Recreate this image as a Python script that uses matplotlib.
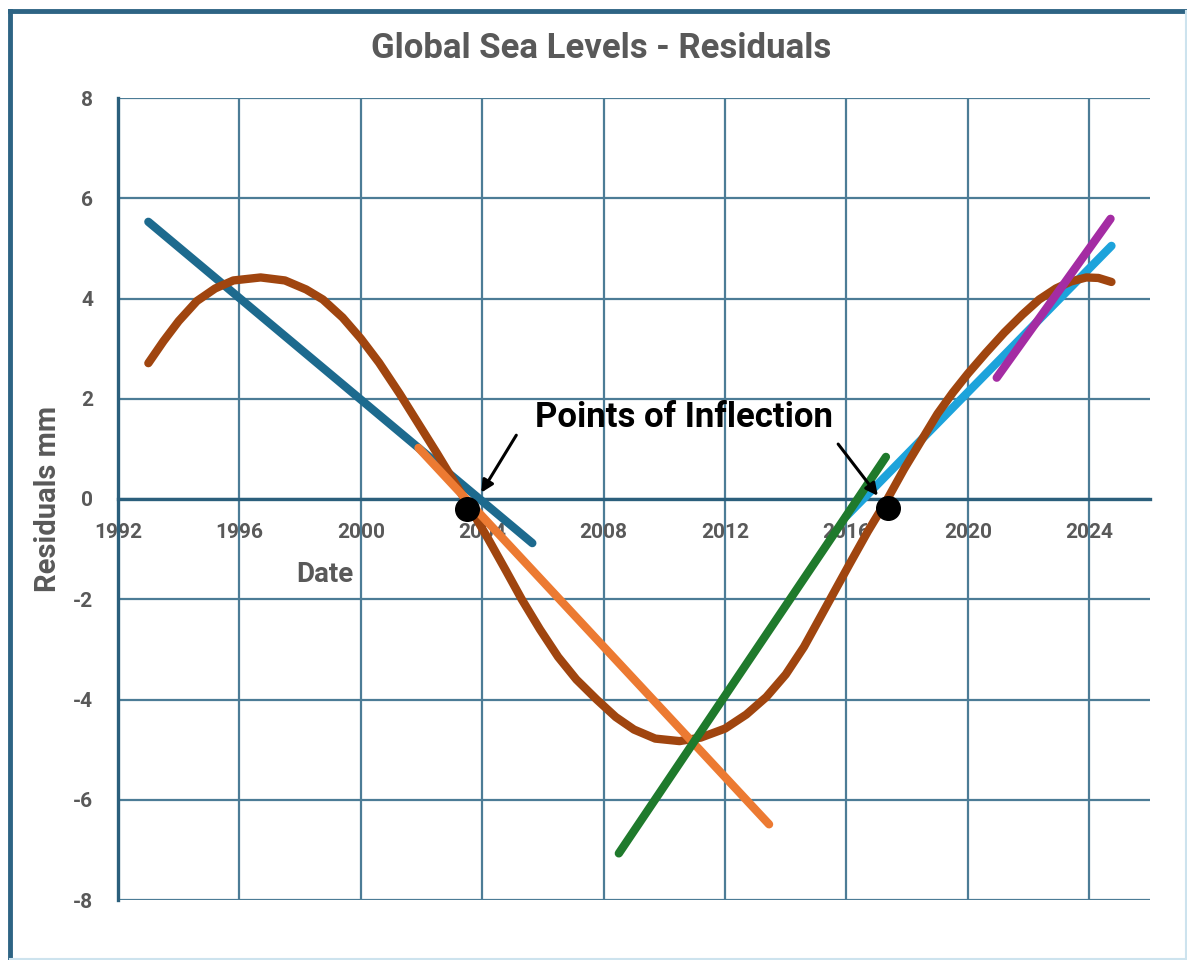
import matplotlib.pyplot as plt
from matplotlib.lines import Line2D

# fitted residual curve
fit_years = [1993.0, 1993.5, 1994.0, 1994.6, 1995.2, 1995.8, 1996.7, 1997.5,
             1998.2, 1998.75, 1999.4, 2000.0, 2000.6, 2001.28, 2001.9, 2002.5,
             2003.0, 2003.6, 2004.2, 2004.8, 2005.3, 2005.9, 2006.5, 2007.1,
             2007.77, 2008.4, 2009.0, 2009.7, 2010.5, 2011.2, 2012.0, 2012.7,
             2013.36, 2014.0, 2014.6, 2015.1, 2015.6, 2016.1, 2016.7, 2017.35,
             2017.9, 2018.5, 2019.0, 2019.5, 2020.0, 2020.6, 2021.2, 2021.8,
             2022.35, 2022.9, 2023.4, 2023.9, 2024.3, 2024.73]
fit_vals = [2.71, 3.15, 3.55, 3.95, 4.2, 4.36, 4.42, 4.36,
            4.18, 3.98, 3.62, 3.2, 2.72, 2.1, 1.5, 0.92,
            0.42, -0.18, -0.8, -1.45, -2.0, -2.6, -3.15, -3.6,
            -4.0, -4.35, -4.6, -4.78, -4.83, -4.76, -4.58, -4.3,
            -3.95, -3.5, -2.95, -2.4, -1.85, -1.3, -0.65, 0.0,
            0.6, 1.2, 1.7, 2.12, 2.5, 2.92, 3.32, 3.68,
            3.98, 4.2, 4.34, 4.42, 4.41, 4.33]

# straight trend segments: (start, end)
seg_darkblue_x = [1993.0, 2005.65]
seg_darkblue_y = [5.53, -0.88]
seg_orange_x = [2001.9, 2013.45]
seg_orange_y = [1.02, -6.49]
seg_green_x = [2008.5, 2017.3]
seg_green_y = [-7.07, 0.84]
seg_lightblue_x = [2016.0, 2024.73]
seg_lightblue_y = [-0.34, 5.05]
seg_purple_x = [2020.95, 2024.7]
seg_purple_y = [2.42, 5.59]

# inflection points
infl_x = [2003.5, 2017.36]
infl_y = [-0.2, -0.18]

x_ticks = [1992, 1996, 2000, 2004, 2008, 2012, 2016, 2020, 2024]
y_ticks = [-8, -6, -4, -2, 0, 2, 4, 6, 8]

grey = '#595959'
gridc = '#4C7C96'
axc = '#2B5F7C'

plt.rcParams['font.family'] = ['Roboto', 'DejaVu Sans']
plt.rcParams['axes.unicode_minus'] = False

fig = plt.figure(figsize=(11.87, 9.6), dpi=100)
ax = fig.add_axes([118 / 1187, 1 - 900 / 960, 1032 / 1187, 802 / 960])

lw = 6.0
kw = dict(lw=lw, solid_capstyle='round', solid_joinstyle='round')
ax.plot(seg_darkblue_x, seg_darkblue_y, color='#1D6A8E', zorder=3.0, **kw)
ax.plot(seg_lightblue_x, seg_lightblue_y, color='#1DA3DB', zorder=3.1, **kw)
ax.plot(fit_years, fit_vals, color='#A0450F', zorder=3.2, **kw)
ax.plot(seg_orange_x, seg_orange_y, color='#EC7A32', zorder=3.3, **kw)
ax.plot(seg_green_x, seg_green_y, color='#1F7A2C', zorder=3.4, **kw)
ax.plot(seg_purple_x, seg_purple_y, color='#A42CA3', zorder=3.5, **kw)

ax.plot(infl_x, infl_y, 'o', color='black', markersize=17, zorder=4)

ax.text(2005.73, 1.62, 'Points of Inflection', fontsize=25, fontweight='bold',
        color='black', va='center', ha='left', zorder=5)
arrow = dict(arrowstyle='-|>', color='black', lw=2.2, mutation_scale=18)
ax.annotate('', xy=(2003.92, 0.08), xytext=(2005.17, 1.32), arrowprops=arrow, zorder=5)
ax.annotate('', xy=(2017.09, 0.02), xytext=(2015.67, 1.14), arrowprops=arrow, zorder=5)

ax.set_xlim(1992, 2026)
ax.set_ylim(-8, 8)
ax.set_xticks(x_ticks)
ax.set_yticks(y_ticks)
ax.set_axisbelow(True)
ax.grid(True, color=gridc, lw=1.6)

for s in ['top', 'right']:
    ax.spines[s].set_visible(False)
ax.spines['bottom'].set_position(('data', 0))
ax.spines['bottom'].set_color(axc)
ax.spines['bottom'].set_linewidth(2.4)
ax.spines['bottom'].set_zorder(2)
ax.spines['left'].set_color(axc)
ax.spines['left'].set_linewidth(2.4)
ax.spines['left'].set_zorder(2)

ax.tick_params(axis='x', length=0, pad=17, labelsize=15, labelcolor=grey)
ax.tick_params(axis='y', length=0, pad=18, labelsize=15, labelcolor=grey)
for lab in ax.get_xticklabels() + ax.get_yticklabels():
    lab.set_fontweight('bold')

ax.set_ylabel('Residuals mm', fontsize=21, fontweight='bold', color=grey)
ax.yaxis.set_label_coords(-0.054, 0.5)
ax.text(1998.8, -1.5, 'Date', fontsize=20, fontweight='bold', color=grey,
        ha='center', va='center')

fig.suptitle('Global Sea Levels - Residuals', x=601 / 1187, y=1 - 48 / 960,
             va='center', fontsize=25, fontweight='bold', color=grey)

# outer frame
fig.add_artist(Line2D([10 / 1187, 10 / 1187], [0, 1 - 11 / 960], color='#2E6484', lw=3.5,
                      transform=fig.transFigure))
fig.add_artist(Line2D([10 / 1187, 1], [1 - 11 / 960, 1 - 11 / 960], color='#2E6484', lw=3.5,
                      transform=fig.transFigure))
fig.add_artist(Line2D([10 / 1187, 1], [1.5 / 960, 1.5 / 960], color='#CDE3EE', lw=1.5,
                      transform=fig.transFigure))
fig.add_artist(Line2D([1185.5 / 1187, 1185.5 / 1187], [0, 1 - 11 / 960], color='#CDE3EE', lw=1.5,
                      transform=fig.transFigure))

fig.savefig('out.png', dpi=100)
